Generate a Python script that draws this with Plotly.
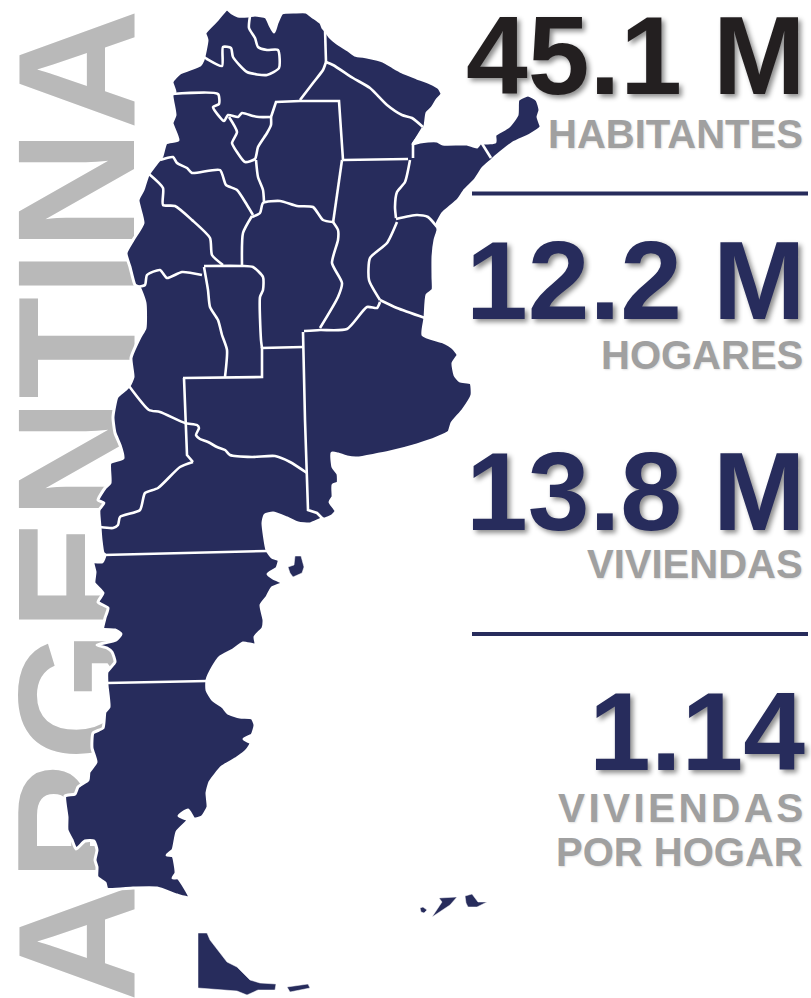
import plotly.graph_objects as go

NAVY = "#272c5c"
INK = "#231f20"
GREY = "#a0a0a0"
TITLE_GREY = "#b9b9b9"
FONT = "Liberation Sans"

title_text = "ARGENTINA"
stat_values = ["45.1 M", "12.2 M", "13.8 M", "1.14"]
stat_colors = [INK, NAVY, NAVY, NAVY]
stat_y = [56, 281, 492, 732]
stat_labels = ["HABITANTES", "HOGARES", "VIVIENDAS", "VIVIENDAS", "POR HOGAR"]
label_y = [134, 355, 564, 808, 852]
label_sizes = [40, 40, 40, 40.5, 40]
rule_y = [193.5, 634]
rule_x = [472, 808]

mainland = [(227,9),(232,13),(238,16),(248,16),(255,15),(266,17),(270,25),(274,32),(277,23),(282,13),(295,12),(306,12),(313,17),(321,23),(323,28),
 (325,30),(330,37),(337,43),(348,50),(355,55),(367,57),(383,61),(393,67),(402,72),(417,78),(430,83),(439,88),(442,94),(437,100),(432,108),(427,113),(425,126),(422,132),
 (416,140),(413,144),(420,142),(428,141),(437,141),(443,144),(467,144),(477,147),(481,142),(485,143),(495,142),(495,135),(508,127),(517,115),(518,100),(528,95),(537,100),(540,110),(538,117),(541,127),(530,135),(513,143),(495,157),(492,160),(483,168),(475,180),(465,190),(458,200),(450,207),(443,213),(437,224),
 (438,230),(435,240),(433,257),(433,277),(433,290),(427,295),(425,318),(423,335),(443,342),(453,348),(458,355),(453,363),(455,375),(460,381),(471,383),(472,395),(463,410),(452,423),(449,432),(437,438),(417,445),(390,452),(357,458),(347,457),(338,454),(332,453),(333,467),(338,474),(338,483),(333,485),(333,497),(330,502),(336,511),(332,516),(325,519),
 (322,519),(310,524),(298,523),(287,518),(273,513),(265,515),(263,523),(267,550),(272,557),(279,560),(277,568),(268,574),(273,578),(283,583),(272,588),(267,597),(261,605),(264,620),(263,628),(255,637),(256,645),(243,643),(233,650),(220,657),(213,667),(207,680),
 (207,690),(213,700),(223,707),(228,713),(240,717),(252,718),(255,725),(252,735),(244,739),(251,743),(247,750),(237,758),(222,767),(210,782),(207,793),(208,807),(202,817),(194,819),(188,810),(179,816),(188,820),(177,832),(173,850),(167,855),(173,856),(176,873),(173,878),(178,878),(190,898),
 (177,895),(157,888),(133,888),(107,889),(105,883),(97,877),(97,867),(95,860),(97,850),(94,841),(85,841),(76,849),(72,840),(67,830),(67,817),(65,796),(75,794),(78,787),(88,780),(89,772),(96,762),(92,748),(93,733),(103,728),(105,712),(109,707),(107,685),(107,672),(115,662),(112,652),(107,648),(97,645),(116,640),(121,634),(115,630),(103,629),(105,618),(108,608),(98,602),(103,593),(94,583),(95,572),(93,562),(102,562),(105,555),
 (103,553),(101,540),(100,527),(99,510),(104,503),(98,500),(105,488),(110,483),(110,463),(123,458),(120,445),(115,433),(113,417),(117,397),(125,390),(129,386),(133,377),(131,358),(140,337),(145,328),(145,303),(139,287),(135,285),(130,267),(126,253),(133,240),(143,223),(138,200),(143,190),(148,175),(159,160),(162,156),(166,143),(178,140),(172,123),(175,115),(172,95),(175,92),(172,82),(180,73),(200,65),(203,60),(207,40),(205,33),(217,20)]
valdes = [(295,556),(301,556),(304,567),(302,573),(293,577),(290,573),(288,567),(294,565)]
fuego = [(198,933),(207,933),(210,940),(227,962),(237,967),(250,980),(260,983),(276,984),(275,990),(258,990),(247,995),(237,991),(198,988)]
staten = [(287,987),(308,984),(310,988),(290,992)]
malvinas_a = [(420,908),(423,907),(427,910),(424,913),(421,912)]
malvinas_b = [(432,917),(442,902),(439,898),(457,897),(450,905),(435,915)]
malvinas_c = [(465,896),(472,894),(478,902),(487,902),(477,907),(468,907),(466,903)]

b_jujuy = [(250,16),(249,28),(255,38),(258,47),(267,50),(278,50),(279,68),(267,75),(247,72),(233,57),(231,48),(223,47),(222,66),(207,59),(204,57)]
b_salta_cat = [(172,94),(218,94),(219,104),(213,107),(224,121),(228,115),(238,117),(242,113),(253,116),(259,117),(271,117)]
b_tucuman = [(229,117),(237,132),(232,143),(237,152),(245,162),(255,159),(258,147),(267,133),(271,125),(271,117)]
b_sgo_north = [(271,117),(276,102),(300,101),(339,101),(343,160)]
b_sgo_east = [(342,160),(333,223)]
b_salta_chaco = [(300,100),(313,83),(323,70),(326,62)]
b_formosa = [(326,62),(333,65),(353,78),(370,88),(387,105),(402,115),(412,118),(423,127)]
b_salta_formosa = [(325,29),(326,62)]
b_chaco_sfe = [(343,160),(408,159)]
b_chaco_ctes = [(423,128),(413,144),(413,158)]
b_sfe_ctes = [(410,160),(405,182),(397,192),(395,207),(396,218)]
b_ctes_er = [(396,219),(417,215),(428,217),(437,227)]
b_sfe_er = [(397,222),(387,243),(370,258),(369,280),(380,300)]
b_er_ba = [(380,300),(397,308),(425,318)]
b_sfe_ba = [(380,302),(377,308),(367,307),(347,329),(320,330),(304,331)]
b_ba_west = [(303,332),(305,420),(308,510),(317,513),(323,519)]
b_sfe_cba = [(333,222),(338,230),(338,240),(332,263),(342,283),(338,297),(320,328)]
b_sgo_cba = [(333,222),(323,220),(313,207),(297,206),(280,201),(263,203),(260,213),(252,217)]
b_sgo_cat = [(256,160),(258,177),(263,190),(264,202)]
b_cat_rioja = [(160,160),(173,157),(177,163),(187,168),(192,173),(220,170),(226,185),(237,190),(247,205),(253,215)]
b_rioja_sj = [(149,174),(163,188),(163,205),(175,206),(192,220),(210,238),(212,255),(223,265)]
b_rioja_cba = [(252,216),(243,233),(242,265)]
b_sl_top = [(204,266),(242,266),(253,267),(263,277),(263,290),(260,297),(261,340),(262,348)]
b_sj_mza = [(137,287),(145,285),(147,275),(160,270),(167,278),(182,272),(202,275)]
b_sl_west = [(204,267),(208,290),(210,307),(218,320),(222,335),(227,350),(225,377)]
b_sl_pampa = [(183,378),(262,377),(262,348),(303,347)]
b_pampa_west = [(184,378),(187,455),(193,462)]
b_mza_nqn = [(129,386),(149,410),(160,412),(185,423),(197,425),(199,428),(196,435),(200,439),(208,442),(217,447),(225,450),(230,455),(252,457),(275,456),(290,462),(307,473)]
b_nqn_rn = [(100,527),(113,528),(118,525),(120,517),(140,510),(145,493),(158,488),(180,467),(193,462)]
b_rn_chubut = [(103,555),(267,551)]
b_chubut_sc = [(107,683),(207,681)]
b_misiones = [(481,142),(491,158)]

land = [mainland, valdes, fuego, staten, malvinas_a, malvinas_b, malvinas_c]
curved_borders = [b_jujuy,b_salta_cat,b_tucuman,b_salta_chaco,b_formosa,b_sfe_ctes,b_ctes_er,b_sfe_er,b_er_ba,b_sfe_ba,b_sfe_cba,b_sgo_cba,b_sgo_cat,b_cat_rioja,b_rioja_sj,b_rioja_cba,b_sj_mza,b_sl_west,b_mza_nqn,b_nqn_rn,b_sl_top]
straight_borders = [b_sgo_north,b_sgo_east,b_salta_formosa,b_chaco_sfe,b_chaco_ctes,b_ba_west,b_sl_pampa,b_pampa_west,b_rn_chubut,b_chubut_sc,b_misiones]

fig = go.Figure()
for i, poly in enumerate(land):
    xs = [p[0] for p in poly] + [poly[0][0]]
    ys = [p[1] for p in poly] + [poly[0][1]]
    if i == 0:
        style = dict(color="white", width=3, shape="spline", smoothing=0.5)
    else:
        style = dict(color="white", width=0.5)
    fig.add_trace(go.Scatter(x=xs, y=ys, mode="lines", fill="toself", fillcolor=NAVY,
                             line=style, hoverinfo="skip"))
for b in curved_borders:
    fig.add_trace(go.Scatter(x=[p[0] for p in b], y=[p[1] for p in b], mode="lines",
                             line=dict(color="white", width=2.6, shape="spline", smoothing=0.6), hoverinfo="skip"))
for b in straight_borders:
    fig.add_trace(go.Scatter(x=[p[0] for p in b], y=[p[1] for p in b], mode="lines",
                             line=dict(color="white", width=2.6), hoverinfo="skip"))
for y in rule_y:
    fig.add_trace(go.Scatter(x=rule_x, y=[y, y], mode="lines",
                             line=dict(color=NAVY, width=4), hoverinfo="skip"))

fig.add_shape(type="rect", xref="x", yref="y", x0=0, x1=119, y0=13, y1=998, layer="below",
              line_width=0, fillcolor="rgba(0,0,0,0)",
              label=dict(text=title_text, textangle=-90, textposition="middle center",
                         font=dict(family=FONT, size=167, color=TITLE_GREY, weight="bold")))

for text, color, y in zip(stat_values, stat_colors, stat_y):
    fig.add_annotation(x=807, y=y, xref="x", yref="y", text=f"<b>{text}</b>", showarrow=False,
                       xanchor="right", yanchor="middle", align="right",
                       font=dict(family=FONT, size=111, color=color,
                                 shadow="3px 3px 5px rgba(0,0,0,0.45)"))
for i, (text, y, s) in enumerate(zip(stat_labels, label_y, label_sizes)):
    if i == 3:
        text = "\u200a".join(text)
    fig.add_annotation(x=805, y=y, xref="x", yref="y", text=f"<b>{text}</b>", showarrow=False,
                       xanchor="right", yanchor="middle", align="right",
                       font=dict(family=FONT, size=s, color=GREY,
                                 shadow="1px 1px 2px rgba(0,0,0,0.12)"))

fig.update_layout(width=811, height=998, margin=dict(l=0, r=0, t=0, b=0),
                  paper_bgcolor="white", plot_bgcolor="white", showlegend=False,
                  xaxis=dict(range=[0, 811], visible=False, fixedrange=True),
                  yaxis=dict(range=[998, 0], visible=False, fixedrange=True))
fig.write_html("out.html", config={"displayModeBar": False},
               post_script="document.body.style.margin='0';")
